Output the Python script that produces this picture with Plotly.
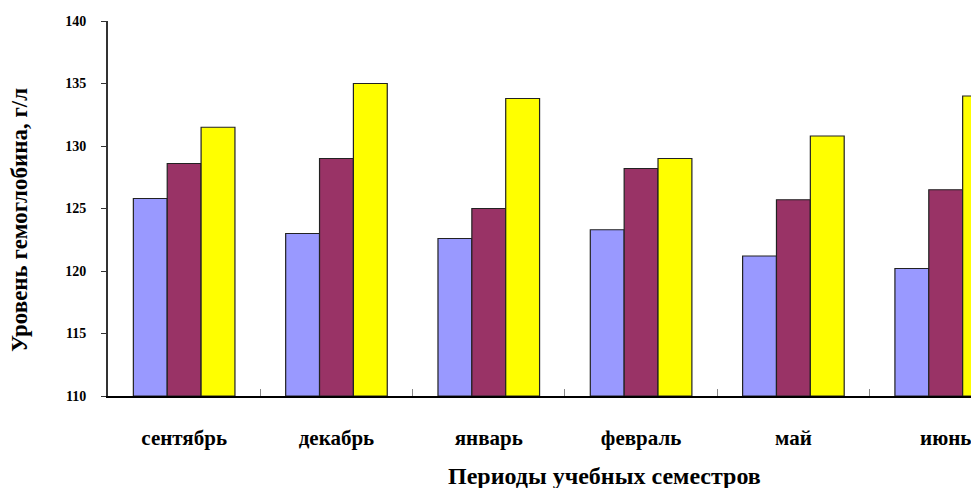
import plotly.graph_objects as go

categories = ["сентябрь", "декабрь", "январь", "февраль", "май", "июнь"]
series1 = [125.8, 123.0, 122.6, 123.3, 121.2, 120.2]
series2 = [128.6, 129.0, 125.0, 128.2, 125.7, 126.5]
series3 = [131.5, 135.0, 133.8, 129.0, 130.8, 134.0]
y_ticks = [110, 115, 120, 125, 130, 135, 140]
x_title = "Периоды учебных семестров"
y_title = "Уровень гемоглобина, г/л"

colors = ["#9999FF", "#993366", "#FFFF00"]
font = "Liberation Serif"

W, H = 971, 488
L, T, B = 108, 21, 92
plot_w = W - L
plot_h = H - T - B

fig = go.Figure()
for vals, c in zip([series1, series2, series3], colors):
    fig.add_trace(go.Bar(
        x=categories, y=[v - 110 for v in vals], base=110,
        marker=dict(color=c, line=dict(color="#222222", width=1.2)),
        showlegend=False, hoverinfo="skip",
    ))

fig.update_layout(
    width=W, height=H,
    margin=dict(l=L, r=0, t=T, b=B),
    paper_bgcolor="white", plot_bgcolor="white",
    barmode="group", bargap=0.333, bargroupgap=0,
    xaxis=dict(
        range=[-0.5, 5.166], showline=True, linecolor="black", linewidth=2,
        ticks="inside", tickson="boundaries", ticklen=7, tickcolor="#888888",
        tickfont=dict(family=font, size=21, color="black", weight="bold"),
        ticklabelstandoff=22, showgrid=False, zeroline=False,
    ),
    yaxis=dict(
        range=[110, 140], tickvals=y_ticks, showline=True, linecolor="#333333",
        linewidth=2, ticks="outside", ticklen=5, tickcolor="#333333",
        tickfont=dict(family=font, size=14, color="black", weight="bold"),
        ticklabelstandoff=12, showgrid=False, zeroline=False,
    ),
)

fig.add_annotation(
    text=x_title, xref="paper", yref="paper",
    x=(604 - L) / plot_w, y=-(476 - (H - B)) / plot_h,
    showarrow=False, xanchor="center", yanchor="middle",
    font=dict(family=font, size=24, color="black", weight="bold"),
)
fig.add_annotation(
    text=y_title, xref="paper", yref="paper",
    x=-(L - 20) / plot_w, y=((H - B) - 220) / plot_h,
    showarrow=False, xanchor="center", yanchor="middle", textangle=-90,
    font=dict(family=font, size=23, color="black", weight="bold"),
)

fig.write_html(
    "out.html",
    config={"displayModeBar": False},
    post_script="document.body.style.margin='0';document.body.style.overflow='hidden';",
)
